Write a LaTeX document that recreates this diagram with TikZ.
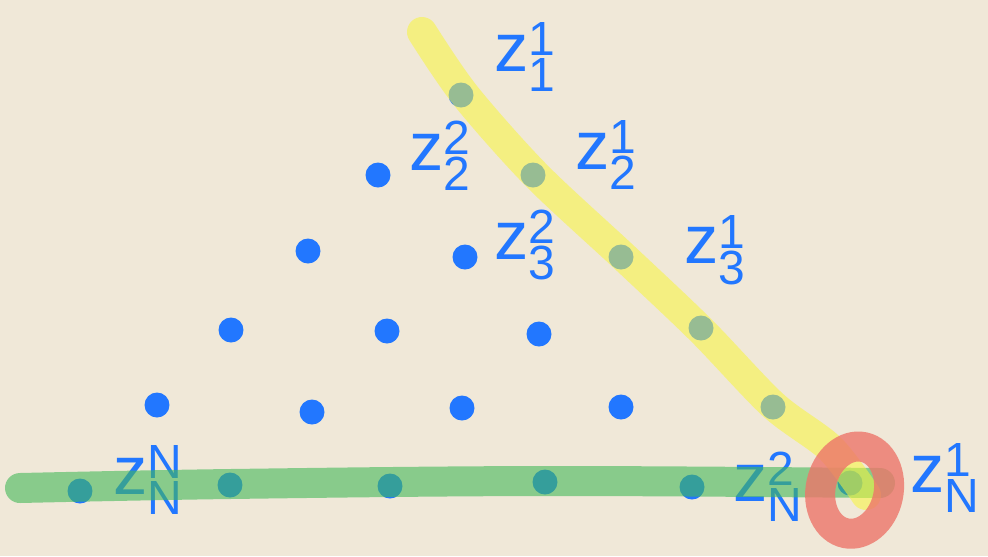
\documentclass[tikz,border=0pt]{standalone}
\usepackage{fontspec}
\setsansfont{Liberation Sans}
\usepackage{tikz}
\usetikzlibrary{calc}
\definecolor{sketchpaper}{HTML}{F0E8D8}
\definecolor{sketchblue}{HTML}{2277FF}
\definecolor{sketchyellow}{HTML}{F8F53B}
\definecolor{sketchgreen}{HTML}{43B959}
\definecolor{sketchred}{HTML}{ED756A}

\begin{document}
\begin{tikzpicture}[
  x=0.02cm, y=-0.02cm,
  dot/.style={circle, fill=sketchblue, inner sep=0pt, minimum size=0.5cm},
  lbl/.style={text=sketchblue, inner sep=0pt, font=\sffamily\fontsize{39}{39}\selectfont},
  marker/.style={line width=0.6cm, line cap=round, line join=round, opacity=0.6},
  ring/.style={draw=sketchred, line width=0.6cm, opacity=0.8}
]

\fill[sketchpaper] (0,0) rectangle (988,556);
\useasboundingbox (0,0) rectangle (988,556);

% dots, named z-<row>-<diagonal>
\foreach \r/\d/\px/\py in {1/1/461/95,
    2/2/378/175, 2/1/533/175,
    3/3/308/251, 3/2/465/257, 3/1/621/257,
    4/4/231/330, 4/3/387/331, 4/2/539/334, 4/1/701/328,
    5/5/157/405, 5/4/312/412, 5/3/462/408, 5/2/621/407, 5/1/773/407,
    6/6/80/491, 6/5/230/485, 6/4/390/486, 6/3/545/482, 6/2/692/487, 6/1/850/483}
  \node[dot] (z-\r-\d) at (\px,\py) {};

% labels
\node[lbl] (l-1-1) at (525,57) {$\mathsf{z}^{\mathsf{1}}_{\mathsf{1}}$};
\node[lbl] (l-2-2) at (440,156) {$\mathsf{z}^{\mathsf{2}}_{\mathsf{2}}$};
\node[lbl] (l-2-1) at (606,155) {$\mathsf{z}^{\mathsf{1}}_{\mathsf{2}}$};
\node[lbl] (l-3-2) at (525,245) {$\mathsf{z}^{\mathsf{2}}_{\mathsf{3}}$};
\node[lbl] (l-3-1) at (715,250) {$\mathsf{z}^{\mathsf{1}}_{\mathsf{3}}$};
\node[lbl] (l-6-6) at (148,480) {$\mathsf{z}^{\mathsf{N}}_{\mathsf{N}}$};
\node[lbl] (l-6-2) at (768,487) {$\mathsf{z}^{\mathsf{2}}_{\mathsf{N}}$};
\node[lbl] (l-6-1) at (945,478) {$\mathsf{z}^{\mathsf{1}}_{\mathsf{N}}$};

% highlighter strokes
\coordinate (gstart) at (20,488);
\coordinate (gend) at (880,483);
\draw[marker, sketchgreen] plot[smooth, tension=0.6] coordinates {(gstart) (230,484) (545,481) (gend)};

\coordinate (ystart) at (422,32);
\coordinate (yend) at (866,495);
\draw[marker, sketchyellow, opacity=0.55] plot[smooth, tension=0.5] coordinates {(ystart) ($(z-1-1.center)+(4,0)$) ($(z-2-1.center)+(3,0)$) ($(z-3-1.center)+(3,0)$) ($(z-4-1.center)+(0,2)$) ($(z-5-1.center)+(0,-2)$) (830,448) (yend)};

\draw[ring, rotate around={-12:(z-6-1.center)}] ($(z-6-1.center)+(6,6)$) ellipse [x radius=34, y radius=44];

\end{tikzpicture}
\end{document}
